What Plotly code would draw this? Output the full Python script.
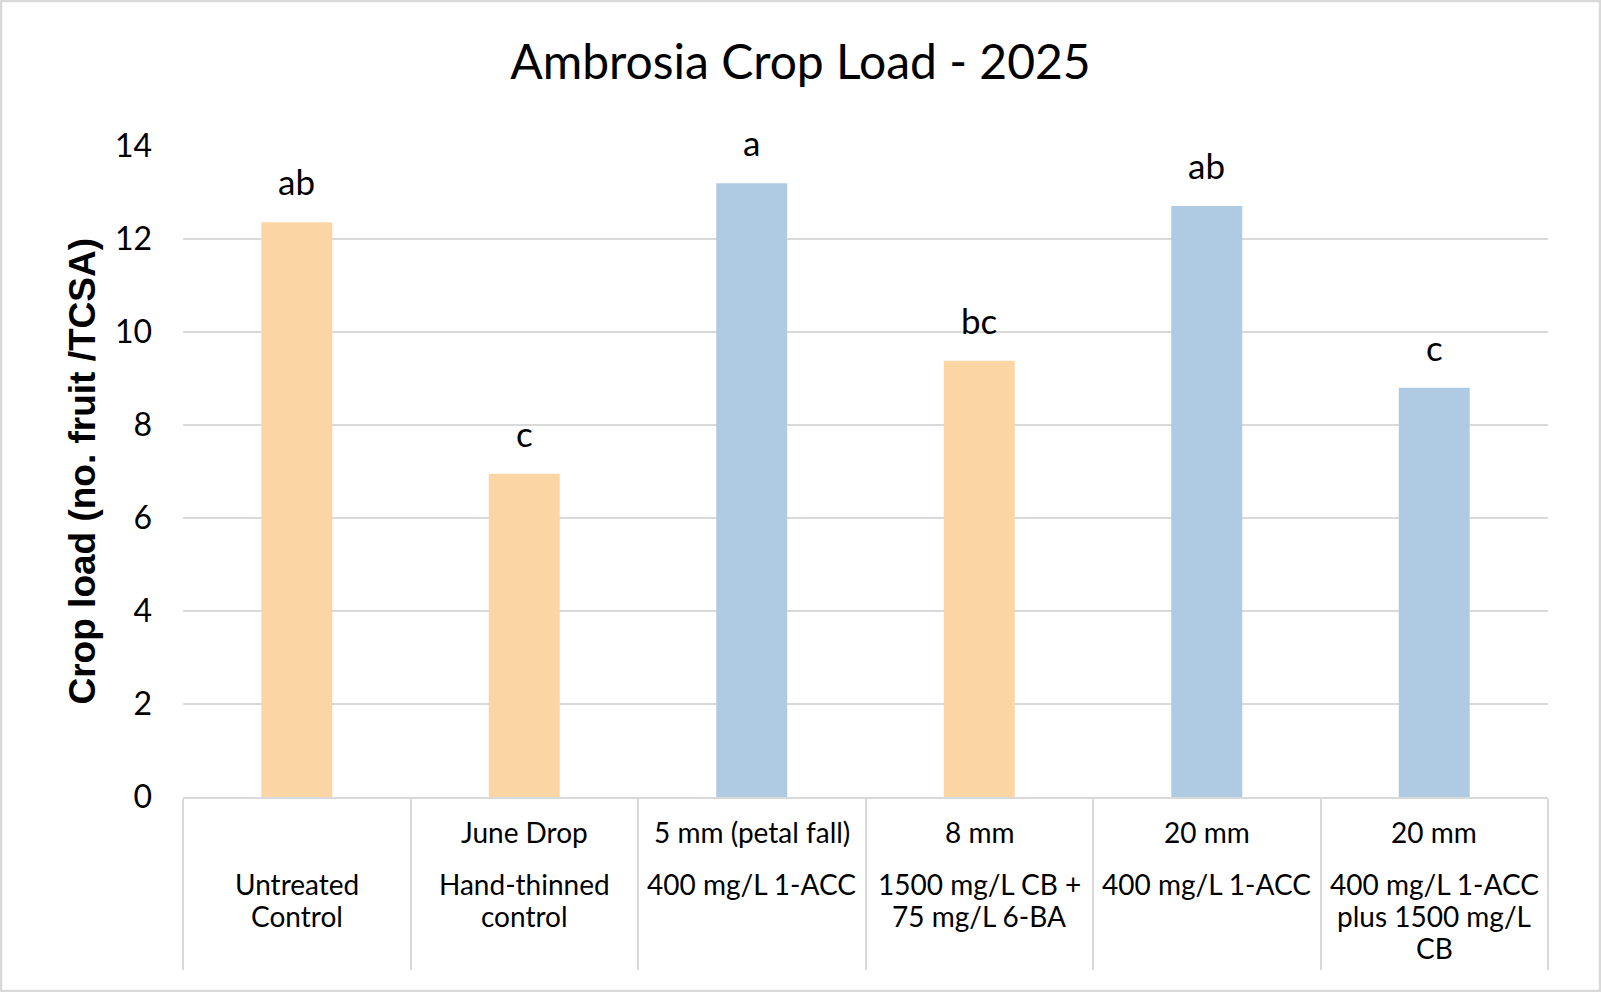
import plotly.graph_objects as go

# ---- data ----
timing = ["", "June Drop", "5 mm (petal fall)", "8 mm", "20 mm", "20 mm"]
treatment = ["Untreated<br>Control", "Hand-thinned<br>control", "400 mg/L 1-ACC",
             "1500 mg/L CB +<br>75 mg/L 6-BA", "400 mg/L 1-ACC",
             "400 mg/L 1-ACC<br>plus 1500 mg/L<br>CB"]
crop_load = [12.36, 6.95, 13.20, 9.38, 12.71, 8.80]
letters = ["ab", "c", "a", "bc", "ab", "c"]
y_ticks = [0, 2, 4, 6, 8, 10, 12, 14]

# ---- styles ----
ORANGE = "#FCD5A5"
BLUE = "#AECBE3"
bar_colors = [ORANGE, ORANGE, BLUE, ORANGE, BLUE, BLUE]
GRID = "#D9D9D9"
FONT = "Lato"

W, H = 1601, 992
ML, MR, MT, MB = 183, 53, 146, 195
PW, PH = W - ML - MR, H - MT - MB
AXIS_Y = H - MB

cats = [f"{t}|{s}" for t, s in zip(timing, treatment)]

fig = go.Figure()
fig.add_trace(go.Bar(x=cats, y=crop_load, width=0.312,
                     marker=dict(color=bar_colors, line=dict(width=0)),
                     hoverinfo="skip"))

annotations = []
for c, v, l in zip(cats, crop_load, letters):
    annotations.append(dict(x=c, y=v, xref="x", yref="y", text=l, showarrow=False,
                            yanchor="middle", yshift=41,
                            font=dict(family=FONT, size=35, color="#000")))
for c, t, s in zip(cats, timing, treatment):
    annotations.append(dict(x=c, y=-(832 - AXIS_Y) / PH, xref="x", yref="paper", text=t,
                            showarrow=False, yanchor="middle",
                            font=dict(family=FONT, size=28, color="#000")))
    for i, line in enumerate(s.split("<br>")):
        annotations.append(dict(x=c, y=-(884 + 32 * i - AXIS_Y) / PH, xref="x",
                                yref="paper", text=line, showarrow=False,
                                yanchor="middle",
                                font=dict(family=FONT, size=28, color="#000")))
annotations.append(dict(x=(82 - ML) / PW, y=0.5, xref="paper", yref="paper",
                        text="<b>Crop load (no. fruit /TCSA)</b>", textangle=-90,
                        showarrow=False, xanchor="center", yanchor="middle",
                        font=dict(family="Liberation Sans", size=37, color="#000")))

fig.update_layout(
    width=W, height=H,
    margin=dict(l=ML, r=MR, t=MT, b=MB, pad=0),
    paper_bgcolor="white", plot_bgcolor="white",
    showlegend=False,
    title=dict(text="Ambrosia Crop Load - 2025", x=0.5, xanchor="center",
               y=1 - 62 / H, yanchor="middle",
               font=dict(family=FONT, size=48, color="#000")),
    xaxis=dict(type="category", showticklabels=False, ticks="outside",
               tickson="boundaries", ticklen=171, tickwidth=2, tickcolor=GRID,
               showline=True, linecolor=GRID, linewidth=2, showgrid=False,
               zeroline=False, range=[-0.5, 5.5]),
    yaxis=dict(range=[0, 14], tickvals=y_ticks, showgrid=True, gridcolor=GRID,
               gridwidth=2, zeroline=False, showline=False, ticks="",
               ticklabelstandoff=30,
               tickfont=dict(family=FONT, size=32, color="#000")),
    annotations=annotations,
    shapes=[dict(type="rect", xref="paper", yref="paper",
                 x0=(1 - ML) / PW, x1=(W - 1 - ML) / PW,
                 y0=-(H - 1 - AXIS_Y) / PH, y1=(AXIS_Y - 1) / PH,
                 line=dict(color=GRID, width=2.5), layer="below")],
)

fig.write_html("out.html",
               config={"displayModeBar": False},
               post_script="document.body.style.margin='0px';"
                           "document.body.style.overflow='hidden';")
